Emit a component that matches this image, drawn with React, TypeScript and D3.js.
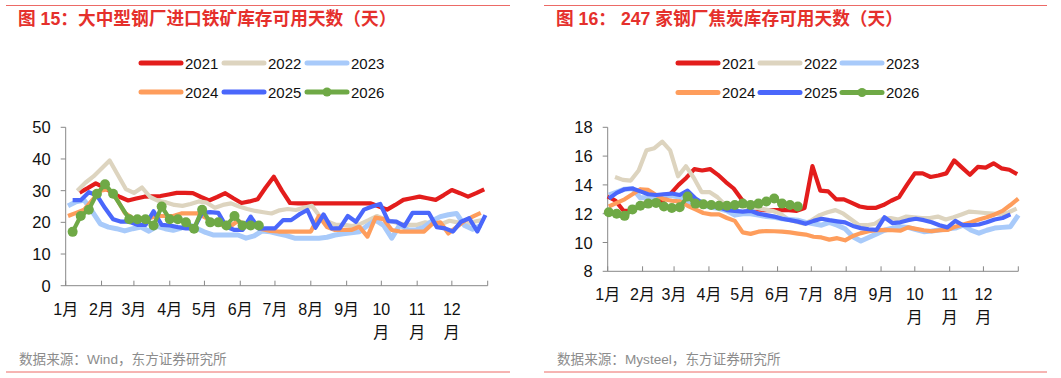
import * as d3 from 'd3';
import React from 'react';

// 月份与年份
const monthLabels = ['1月', '2月', '3月', '4月', '5月', '6月', '7月', '8月', '9月', '10月', '11月', '12月'];
const monthStartDays = [0, 31, 59, 90, 120, 151, 181, 212, 243, 273, 304, 334, 365];
const years = ['2021', '2022', '2023', '2024', '2025', '2026'];
const colors = ['#e31d1c', '#ddd4bf', '#a8cafa', '#fe9d5c', '#4a67fb', '#6fa946'];

// 图15：大中型钢厂进口铁矿库存可用天数（周度，首个数据点所在的日序）
const oreStartDay = [12, 10, 2, 2, 6, 6];
const ore2021 = [29.4, 30.8, 32.3, 31, 29.4, 28, 26.9, 27.5, 28.1, 28.2, 28.3, 28.8, 29.3, 29.3, 29.2, 28, 26.9, 28, 29.2, 27.6, 26.1, 26.6, 27.3, 31, 34.4, 30, 26.1, 26, 26, 26, 26, 26, 26, 26, 26, 26, 26, 25, 24, 25.5, 27.1, 27.6, 28.1, 27.6, 27.1, 28.6, 30.2, 29.2, 28.1, 29.2, 30.4];
const ore2022 = [30, 32.5, 34.5, 37, 39.5, 35, 30.5, 29.3, 31, 28, 26.8, 26.3, 25.5, 25.2, 25.8, 26.6, 26.2, 24.6, 25.5, 26, 25, 24.2, 23.6, 23.2, 22.8, 23.8, 24.2, 23.9, 24.6, 25.2, 21.8, 20.2, 19.2, 19.2, 18.8, 19.5, 20.7, 22, 21, 20.2, 19.5, 19.2, 19.2, 20, 19.5, 19.5, 20.5, 20, 19.2, 20.2, 20.7];
const ore2023 = [25.2, 26.5, 27, 23.4, 19.5, 18.5, 18, 17.3, 18, 18.5, 17.2, 18.7, 18, 17.5, 18.2, 19.2, 18, 16.8, 16, 16, 16, 16, 15, 15.7, 17.3, 17, 16.4, 15.8, 15, 15, 15, 15, 15.3, 16, 16.4, 16.7, 17, 19, 20.7, 19, 15, 19.2, 17.6, 17.6, 18.5, 20.5, 21.8, 22.4, 22.8, 19, 17.8, 19];
const ore2024 = [22, 23, 24, 27, 30, 30.5, 27.5, 23, 21.3, 21.3, 21.3, 22, 22, 22, 22.8, 22.8, 22.8, 21.5, 20, 19.2, 18.6, 20.5, 19.2, 19.8, 17.8, 17.3, 17.1, 17.1, 17.1, 17.1, 17.1, 22, 18.5, 17.6, 17.6, 17.6, 18.6, 15.5, 21.5, 21, 17.6, 17.1, 17.1, 17.1, 17.1, 19.5, 20, 16.5, 18.5, 20.5, 21.8, 23];
const ore2025 = [27, 27, 29.5, 28.5, 24.5, 21, 20.2, 20.2, 19.2, 19.2, 23.5, 19.2, 19, 18.5, 18.1, 18.1, 23, 23.2, 23, 18.6, 17.6, 17.6, 21.8, 18, 18.1, 18.1, 20.7, 20.7, 22.5, 23.9, 18.3, 22.5, 18.1, 18.1, 22, 20.2, 24, 25, 25.8, 20.4, 20.2, 18.8, 23, 23, 23, 18.5, 18.1, 17.1, 20.2, 21.3, 17.1, 22.3];
const ore2026 = [17, 22, 24, 29, 32, 29, null, 21, 21, 21, 19, 25, 21, 21, 20, 18, 24, 20, 20, 19, 22, 19, 19, 19];
const oreTicks = [0, 10, 20, 30, 40, 50];

// 图16：247家钢厂焦炭库存可用天数
const cokeStartDay = [0, 6.5, 1, 1, 1, 1];
const coke2021 = [13.2, 12.9, 12.2, 12.2, 12.5, 12.8, 12.8, 12.9, 13.4, 14.0, 14.5, 15.1, 15.0, 15.1, 14.7, 14.2, 13.75, 13.0, 12.5, 12.3, 12.25, 12.25, 12.25, 12.25, 12.2, 12.4, 15.3, 13.6, 13.55, 13.0, 13.0, 12.75, 12.5, 12.4, 12.4, 12.6, 12.9, 13.15, 14.0, 14.8, 14.8, 14.55, 14.65, 14.8, 15.7, 15.2, 14.7, 15.25, 15.2, 15.5, 15.15, 15.05, 14.75];
const coke2022 = [14.55, 14.35, 14.3, 15.0, 16.4, 16.55, 17.0, 16.4, 14.6, 15.3, 14.5, 13.5, 13.5, 13.15, 12.6, 12.4, 12.0, 12.35, 12.4, 12.3, 12.2, 12.0, 11.6, 11.45, 11.3, 11.56, 11.9, 12.1, 12.25, 12.0, 11.6, 11.2, 11.2, 11.3, 11.65, 11.7, 11.6, 11.8, 11.75, 11.7, 11.7, 11.8, 11.6, 11.75, 11.95, 12.15, 12.1, 12.05, 12.0, 11.95, 12.1, 12.35];
const coke2023 = [13.3, 13.5, 13.7, 13.75, 13.1, 13.1, 13.2, 13.3, 13.25, 13.15, 12.75, 12.8, 12.6, 12.45, 12.35, 12.2, 11.9, 12.0, 12.0, 11.9, 11.8, 11.75, 11.65, 11.6, 11.55, 11.4, 11.3, 11.2, 11.4, 11.2, 10.95, 10.4, 10.1, 10.35, 10.6, 10.85, 11.0, 11.1, 11.05, 10.9, 10.75, 10.8, 10.87, 10.95, 11.0, 11.2, 10.85, 10.65, 10.85, 11.0, 11.05, 11.1, 11.9];
const coke2024 = [12.5, 12.75, 13.0, 13.35, 13.7, 13.65, 13.3, 13.0, 12.9, 12.85, 12.55, 12.3, 12.05, 11.95, 11.95, 11.7, 11.5, 10.7, 10.6, 10.75, 10.8, 10.78, 10.75, 10.7, 10.62, 10.55, 10.4, 10.35, 10.2, 10.3, 10.15, 10.45, 10.65, 10.78, 10.85, 10.87, 10.85, 10.82, 11.05, 10.95, 10.85, 10.78, 10.85, 10.87, 11.1, 11.25, 11.4, 11.6, 11.75, 11.95, 12.2, 12.6, 13.05];
const coke2025 = [13.05, 13.45, 13.7, 13.75, 13.55, 13.35, 13.3, 13.35, 13.4, 13.3, 13.6, 13.05, 12.7, 12.55, 12.45, 12.25, 12.2, 12.15, 12.2, 12.0, 11.9, 11.8, 11.65, 11.55, 11.45, 11.3, 11.5, 11.65, 11.55, 11.47, 11.4, 11.15, 11.0, 10.92, 10.88, 11.75, 11.35, 11.4, 11.55, 11.65, 11.55, 11.4, 11.2, 11.05, 11.5, 11.2, 11.2, 11.25, 11.4, 11.6, 11.7, 11.95];
const coke2026 = [12.1, 12.0, 11.85, 12.3, 12.55, 12.7, 12.75, 12.5, 12.4, 12.45, 13.2, 12.7, 12.65, 12.6, 12.55, 12.55, 12.6, 12.7, 12.6, 12.7, 12.85, 13.05, 12.7, 12.6, 12.5];
const cokeTicks = [8, 10, 12, 14, 16, 18];

const FONT = '"Liberation Sans", Arial, "Noto Sans CJK SC", sans-serif';
const RED = '#e5302c';

type Geo = {
  left: number; right: number; top: number; bottom: number;
  legendX: number[]; legendY: number[];
  titleX: number; frameX0: number; frameX1: number;
};

function Chart(props: {
  title: string; source: string; geo: Geo;
  yDomain: [number, number]; yTicks: number[];
  series: (number | null)[][]; starts: number[];
}) {
  const { geo, series, starts } = props;
  const x = d3.scaleLinear().domain([0, 365]).range([geo.left, geo.right]);
  const y = d3.scaleLinear().domain(props.yDomain).range([geo.bottom, geo.top]);
  const line = d3.line<[number, number]>().x(d => x(d[0])).y(d => y(d[1]));

  // 缺失的周不画点，线直接连过去
  const pts = series.map((vals, i) =>
    vals
      .map((v, k) => [starts[i] + k * 7, v] as [number, number | null])
      .filter(p => p[1] !== null) as [number, number][]
  );

  return (
    <g fontFamily={FONT}>
      <line x1={geo.frameX0} x2={geo.frameX1} y1={5.5} y2={5.5} stroke="#ec6a66" strokeWidth={1} />
      <text x={geo.titleX} y={25} fill={RED} fontSize={17.7} fontWeight="bold">{props.title}</text>

      {/* legend */}
      {years.map((yr, i) => {
        const lx = geo.legendX[i % 3];
        const ly = geo.legendY[Math.floor(i / 3)];
        return (
          <g key={yr}>
            <line x1={lx} x2={lx + 40} y1={ly} y2={ly} stroke={colors[i]} strokeWidth={5} strokeLinecap="round" />
            {i === 5 && <circle cx={lx + 20} cy={ly} r={4.5} fill={colors[i]} />}
            <text x={lx + 44} y={ly + 5.5} fontSize={15} fill="#111">{yr}</text>
          </g>
        );
      })}

      {/* y axis */}
      <line x1={geo.left} x2={geo.left} y1={geo.top} y2={geo.bottom} stroke="#888" />
      {props.yTicks.map(t => (
        <g key={t}>
          <line x1={geo.left - 5} x2={geo.left} y1={y(t)} y2={y(t)} stroke="#888" />
          <text x={geo.left - 15} y={y(t) + 6} textAnchor="end" fontSize={16.5} fill="#111">{t}</text>
        </g>
      ))}

      {/* x axis */}
      <line x1={geo.left} x2={geo.right} y1={geo.bottom} y2={geo.bottom} stroke="#888" />
      {monthStartDays.map(d => (
        <line key={d} x1={x(d)} x2={x(d)} y1={geo.bottom - 5} y2={geo.bottom} stroke="#888" />
      ))}
      {monthLabels.map((m, i) => {
        const cx = x(monthStartDays[i]);
        const base = geo.bottom + 29;
        if (m.length > 2) {
          return (
            <text key={m} textAnchor="middle" fontSize={16} fill="#111">
              <tspan x={cx} y={base}>{m.slice(0, 2)}</tspan>
              <tspan x={cx} y={base + 23}>月</tspan>
            </text>
          );
        }
        return <text key={m} x={cx} y={base} textAnchor="middle" fontSize={16} fill="#111">{m}</text>;
      })}

      {/* lines */}
      {pts.map((p, i) => (
        <path key={i} d={line(p) || ''} fill="none" stroke={colors[i]} strokeWidth={i === 2 ? 5 : 4.2} strokeLinejoin="round" />
      ))}
      {pts[5].map((p, k) => (
        <circle key={k} cx={x(p[0])} cy={y(p[1])} r={5} fill={colors[5]} />
      ))}

      <text x={geo.titleX + 1} y={364} fontSize={13.6} fill="#8c8c8c">{props.source}</text>
      <line x1={geo.frameX0} x2={geo.frameX1} y1={372} y2={372} stroke="#ec6a66" strokeWidth={1} />
    </g>
  );
}

export default function App() {
  const leftGeo: Geo = {
    left: 65.7, right: 487.7, top: 127.3, bottom: 285.7,
    legendX: [141, 224, 307], legendY: [63, 92],
    titleX: 18, frameX0: 6, frameX1: 510,
  };
  const rightGeo: Geo = {
    left: 607.7, right: 1018.3, top: 127.3, bottom: 271.3,
    legendX: [678, 760, 842], legendY: [63, 92.5],
    titleX: 556, frameX0: 544, frameX1: 1047,
  };
  return (
    <svg width={1061} height={378} style={{ position: 'absolute', left: 0, top: 0, background: '#fff' }}>
      <Chart
        title="图 15：大中型钢厂进口铁矿库存可用天数（天）"
        source="数据来源：Wind，东方证券研究所"
        geo={leftGeo}
        yDomain={[0, 50]}
        yTicks={oreTicks}
        series={[ore2021, ore2022, ore2023, ore2024, ore2025, ore2026]}
        starts={oreStartDay}
      />
      <Chart
        title="图 16： 247 家钢厂焦炭库存可用天数（天）"
        source="数据来源：Mysteel，东方证券研究所"
        geo={rightGeo}
        yDomain={[8, 18]}
        yTicks={cokeTicks}
        series={[coke2021, coke2022, coke2023, coke2024, coke2025, coke2026]}
        starts={cokeStartDay}
      />
    </svg>
  );
}
